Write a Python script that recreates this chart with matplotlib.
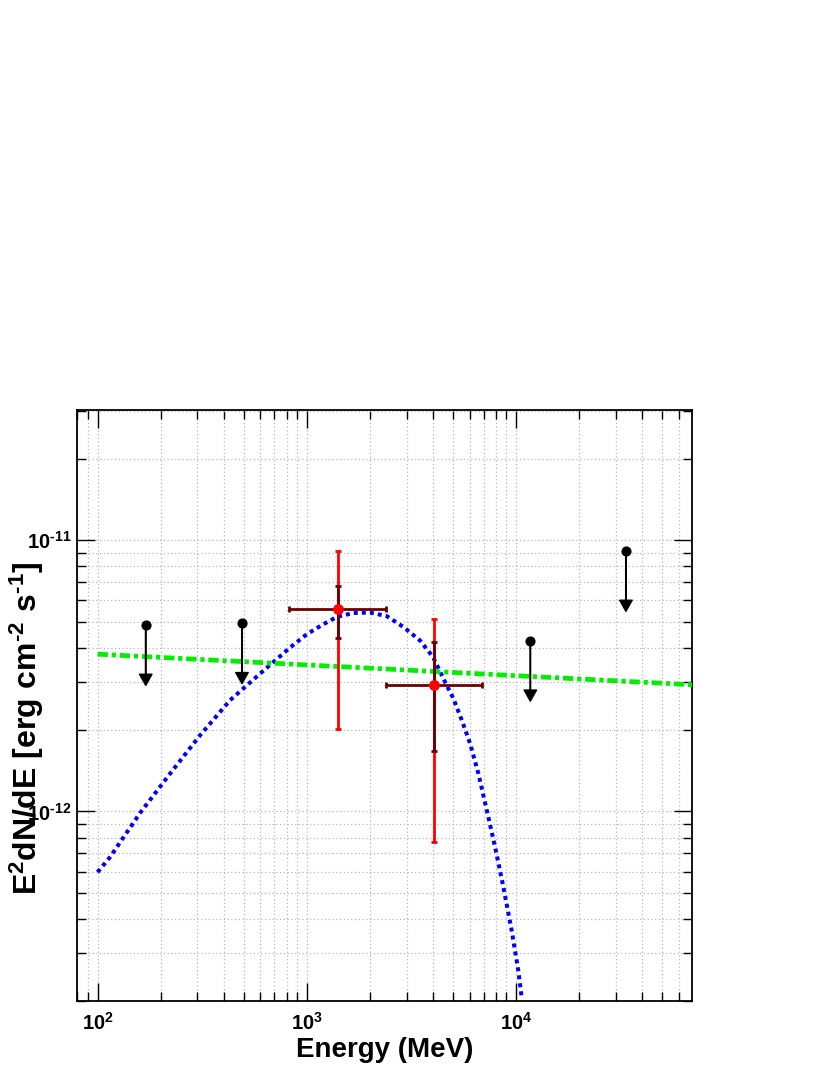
import numpy as np
import matplotlib
matplotlib.use("Agg")
import matplotlib.pyplot as plt
from matplotlib.ticker import FixedLocator, LogLocator, NullFormatter

plt.rcParams['font.family'] = ['Liberation Sans', 'DejaVu Sans']
plt.rcParams['mathtext.fontset'] = 'custom'
plt.rcParams['mathtext.rm'] = 'Liberation Sans:bold'
plt.rcParams['mathtext.bf'] = 'Liberation Sans:bold'
plt.rcParams['mathtext.it'] = 'Liberation Sans:bold'

# upper limits (energy [MeV], flux [erg cm-2 s-1])
ul_energy = [170, 490, 1.17e4, 3.35e4]
ul_flux   = [4.86e-12, 4.93e-12, 4.25e-12, 9.11e-12]

# detected points
pt_energy  = [1406, 4045]
pt_flux    = [5.56e-12, 2.93e-12]
pt_e_lo    = [822, 2393]
pt_e_hi    = [2393, 6890]
pt_tot_lo  = [2.02e-12, 7.71e-13]
pt_tot_hi  = [9.13e-12, 5.11e-12]
pt_stat_lo = [4.35e-12, 1.67e-12]
pt_stat_hi = [6.78e-12, 4.21e-12]

# power law model (green)
pl_energy = [100, 7e4]
pl_flux   = [3.8e-12, 2.93e-12]

# curved model (blue)
lp_energy = [100, 114.7, 159.6, 222, 309, 430, 598, 832, 1000, 1200, 1390, 1668,
             2004, 2409, 2892, 3474, 4010, 4580, 5015, 5503, 6030, 6606, 7247,
             7941, 8700, 9530, 10250, 10640]
lp_flux = [5.97e-13, 6.78e-13, 9.86e-13, 1.377e-12, 1.908e-12, 2.57e-12, 3.22e-12,
           4.02e-12, 4.50e-12, 4.90e-12, 5.21e-12, 5.39e-12, 5.41e-12, 5.25e-12,
           4.79e-12, 4.27e-12, 3.71e-12, 3.00e-12, 2.61e-12, 2.17e-12, 1.78e-12,
           1.38e-12, 1.01e-12, 7.38e-13, 5.26e-13, 3.64e-13, 2.59e-13, 2.06e-13]

HY = '\u2010'  # short hyphen used as minus in the labels
x_major = [1e2, 1e3, 1e4]
x_labels = [r'$\mathbf{10^{2}}$', r'$\mathbf{10^{3}}$', r'$\mathbf{10^{4}}$']
y_major = [1e-12, 1e-11]
y_labels = [r'$\mathbf{10^{%s12}}$' % HY, r'$\mathbf{10^{%s11}}$' % HY]
y_title = r'$\mathbf{E^{2}dN/dE\ [erg\ cm^{%s2}\ s^{%s1}]}$' % (HY, HY)

W, H = 830, 1075
fig = plt.figure(figsize=(W / 100, H / 100), dpi=100)
ax = fig.add_axes([77 / W, 74 / H, 615 / W, 591 / H])
ax.set_xscale('log')
ax.set_yscale('log')
ax.set_xlim(79.8, 6.93e4)
ax.set_ylim(2.0e-13, 3.02e-11)

ax.grid(True, which='both', color='#b8b8b8', linestyle=(0, (1, 2)), linewidth=0.9)
ax.set_axisbelow(True)

# models
ax.plot(lp_energy, lp_flux, color='#0000ff', lw=2.9, linestyle=(0, (1.0, 1.0)),
        dash_capstyle='butt', zorder=3)
ax.plot(pl_energy, pl_flux, color='#00ee00', lw=3.4, linestyle=(0, (2.2, 0.8, 0.9, 0.8)),
        zorder=3)

# upper limits
for e, f in zip(ul_energy, ul_flux):
    ax.annotate('', xy=(e, f * 0.60), xytext=(e, f),
                arrowprops=dict(facecolor='black', edgecolor='black', width=0.4,
                                headwidth=9, headlength=8, shrink=0), zorder=4)
ax.plot(ul_energy, ul_flux, 'o', color='black', ms=6.3, zorder=5)

# points with errors
pe = np.array(pt_energy)
pf = np.array(pt_flux)
ax.errorbar(pe, pf, yerr=[pf - np.array(pt_tot_lo), np.array(pt_tot_hi) - pf],
            fmt='none', ecolor='#ff0000', elinewidth=2, capsize=2.5, capthick=2, zorder=5)
ax.errorbar(pe, pf, xerr=[pe - np.array(pt_e_lo), np.array(pt_e_hi) - pe],
            yerr=[pf - np.array(pt_stat_lo), np.array(pt_stat_hi) - pf],
            fmt='none', ecolor='#6b0000', elinewidth=2, capsize=2.5, capthick=2, zorder=6)
ax.plot(pe, pf, 'o', color='#ff0000', ms=6.8, zorder=7)

# ticks
ax.xaxis.set_major_locator(FixedLocator(x_major))
ax.xaxis.set_minor_locator(LogLocator(base=10, subs=np.arange(2, 10), numticks=20))
ax.xaxis.set_minor_formatter(NullFormatter())
ax.set_xticklabels(x_labels)
ax.yaxis.set_major_locator(FixedLocator(y_major))
ax.yaxis.set_minor_locator(LogLocator(base=10, subs=np.arange(2, 10), numticks=20))
ax.yaxis.set_minor_formatter(NullFormatter())
ax.set_yticklabels(y_labels)
ax.tick_params(which='both', direction='in', top=True, right=True, width=1, colors='black')
ax.tick_params(which='major', length=13)
ax.tick_params(which='minor', length=6.5)
ax.tick_params(axis='x', which='major', pad=8, labelsize=14.5)
ax.tick_params(axis='y', which='major', pad=4, labelsize=14.5)
for s in ax.spines.values():
    s.set_linewidth(1.3)

fig.text(384.5 / W, 1 - 1057 / H, 'Energy (MeV)', ha='center', va='baseline',
         fontsize=20, fontweight='bold')
fig.text(27 / W, 1 - 728 / H, y_title,
         ha='center', va='center', rotation=90, fontsize=23)

fig.savefig('out.png', dpi=100)
